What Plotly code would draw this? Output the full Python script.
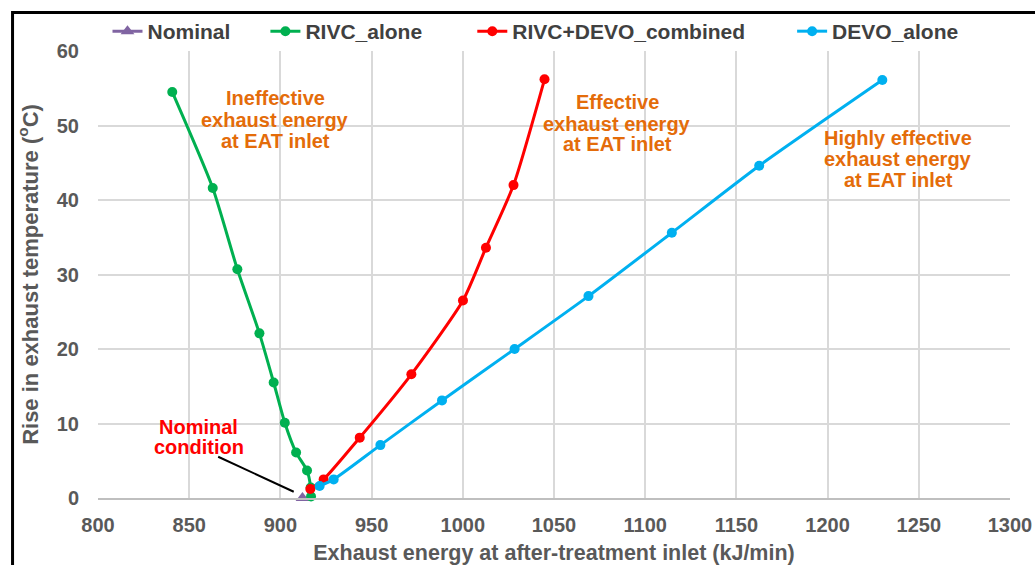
import plotly.graph_objects as go

# ---- data ----
nominal_x = [912.1]
nominal_y = [0.0]

rivc_x = [840.7, 862.9, 876.4, 888.5, 896.3, 902.4, 908.6, 914.6, 916.6, 916.8]
rivc_y = [54.5, 41.6, 30.7, 22.1, 15.5, 10.1, 6.1, 3.7, 1.4, 0.2]

comb_x = [916.4, 923.7, 943.5, 971.8, 1000.1, 1012.7, 1027.8, 1044.8]
comb_y = [1.2, 2.5, 8.1, 16.6, 26.5, 33.6, 42.0, 56.2]

devo_x = [921.5, 929.2, 954.8, 988.6, 1028.4, 1068.9, 1114.6, 1162.5, 1230.0]
devo_y = [1.6, 2.5, 7.1, 13.1, 20.0, 27.1, 35.6, 44.6, 56.1]

x_ticks = [800, 850, 900, 950, 1000, 1050, 1100, 1150, 1200, 1250, 1300]
y_ticks = [0, 10, 20, 30, 40, 50, 60]

FONT = "Liberation Sans, Arial, sans-serif"
ORANGE = "#E46C0A"

W, H = 1035, 565
L, R, T, B = 97.5, 25, 50.5, 67
PW = W - L - R
PH = H - T - B

def px_x(p):
    return (p - L) / PW

def px_y(p):
    return (H - B - p) / PH

fig = go.Figure()

fig.add_trace(go.Scatter(
    x=nominal_x, y=nominal_y, name="Nominal", mode="lines+markers",
    marker=dict(symbol="triangle-up", size=12, color="#8064A2"),
    line=dict(color="#8064A2", width=3), cliponaxis=False, legend="legend"))

fig.add_trace(go.Scatter(
    x=rivc_x, y=rivc_y, name="RIVC_alone", mode="lines+markers",
    marker=dict(symbol="circle", size=10, color="#00B050"),
    line=dict(color="#00B050", width=3, shape="spline", smoothing=0.6),
    cliponaxis=False, legend="legend2"))

fig.add_trace(go.Scatter(
    x=comb_x, y=comb_y, name="RIVC+DEVO_combined", mode="lines+markers",
    marker=dict(symbol="circle", size=10, color="#FF0000"),
    line=dict(color="#FF0000", width=3, shape="spline", smoothing=0.6),
    cliponaxis=False, legend="legend3"))

fig.add_trace(go.Scatter(
    x=devo_x, y=devo_y, name="DEVO_alone", mode="lines+markers",
    marker=dict(symbol="circle", size=10, color="#00B0F0"),
    line=dict(color="#00B0F0", width=3, shape="spline", smoothing=0.6),
    cliponaxis=False, legend="legend4"))

leg_font = dict(family=FONT, size=21, color="#404040", weight="bold")
ly = px_y(31)
def leg(xpx):
    return dict(x=px_x(xpx), y=ly, xanchor="left", yanchor="middle",
                orientation="h", font=leg_font, bgcolor="rgba(0,0,0,0)",
                borderwidth=0, itemwidth=30)

# annotation text blocks (one annotation per line, to match tight line spacing)
blocks = [
    (897.3, [53.66, 50.76, 47.86], ["Ineffective", "exhaust energy", "at EAT inlet"], ORANGE),
    (1084.7, [53.12, 50.24, 47.55], ["Effective", "exhaust energy", "at EAT inlet"], ORANGE),
    (1238.8, [48.35, 45.44, 42.63], ["Highly effective", "exhaust energy", "at EAT inlet"], ORANGE),
    (855.2, [9.5, 6.9], ["Nominal", "condition"], "#FF0000"),
]
annotations = []
for xc, ys, lines, col in blocks:
    for yy, txt in zip(ys, lines):
        annotations.append(dict(
            x=xc, y=yy, xref="x", yref="y", text=txt, showarrow=False,
            xanchor="center", yanchor="middle",
            font=dict(family=FONT, size=20, color=col, weight="bold")))

shapes = [
    dict(type="line", xref="x", yref="y", x0=865.9, y0=5.54, x1=907.3, y1=0.84,
         line=dict(color="black", width=2)),
    dict(type="rect", xref="paper", yref="paper",
         x0=px_x(12), x1=px_x(1045), y0=px_y(575), y1=px_y(12),
         line=dict(color="black", width=3), fillcolor="rgba(0,0,0,0)", layer="above"),
]

fig.update_layout(
    width=W, height=H,
    margin=dict(l=L, r=R, t=T, b=B, autoexpand=False),
    paper_bgcolor="white", plot_bgcolor="white",
    font=dict(family=FONT, size=19, color="#595959", weight="bold"),
    showlegend=True,
    legend=leg(107), legend2=leg(265), legend3=leg(472), legend4=leg(792),
    annotations=annotations, shapes=shapes,
    xaxis=dict(range=[800, 1300], tickvals=x_ticks, ticktext=[str(v) for v in x_ticks],
               automargin=False,
               showgrid=True, gridcolor="#D9D9D9", gridwidth=1.5,
               showline=True, linecolor="#BFBFBF", linewidth=1.5,
               ticks="outside", ticklen=8, tickcolor="rgba(0,0,0,0)",
               zeroline=False, tickfont=dict(size=20, color="#595959"),
               title=dict(text="Exhaust energy at after-treatment inlet (kJ/min)",
                          font=dict(size=21.5, color="#595959"), standoff=12)),
    yaxis=dict(range=[0, 60], tickvals=y_ticks, ticktext=[str(v) for v in y_ticks],
               automargin=False,
               showgrid=True, gridcolor="#D9D9D9", gridwidth=1.5,
               showline=False, zeroline=False,
               ticks="outside", ticklen=14, tickcolor="rgba(0,0,0,0)",
               tickfont=dict(size=20, color="#595959"),
               title=dict(text="Rise in exhaust temperature (<sup>o</sup>C)",
                          font=dict(size=22, color="#595959"), standoff=12)),
)

fig.write_html("out.html")
